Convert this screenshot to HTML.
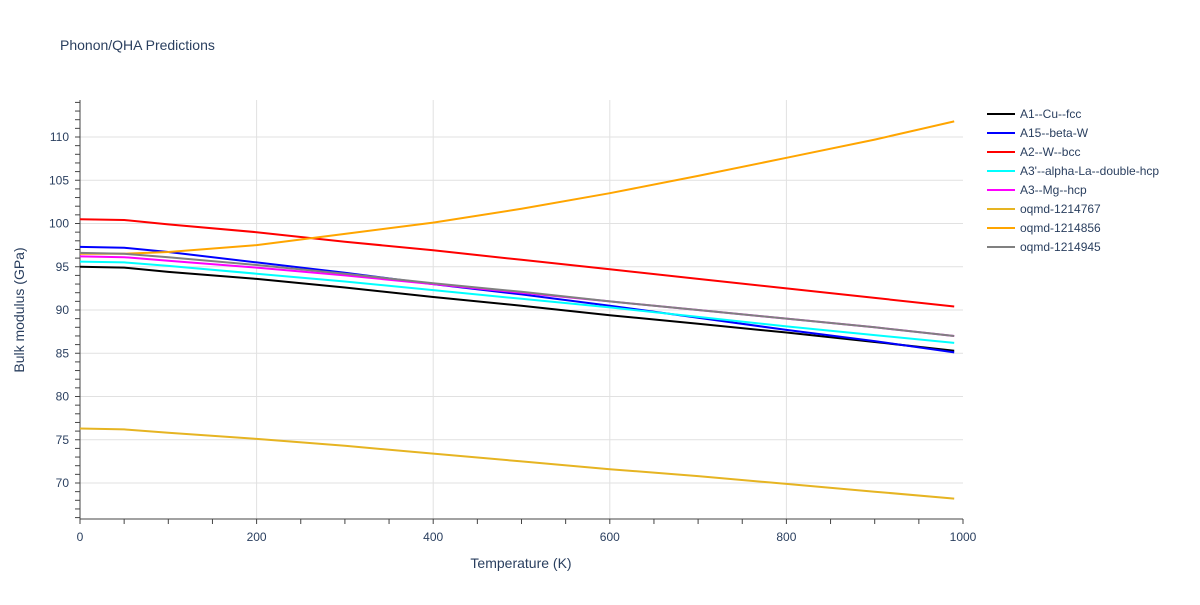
<!DOCTYPE html>
<html><head><meta charset="utf-8"><style>body{margin:0;background:#fff}svg text{font-family:"Liberation Sans",sans-serif;fill:#2a3f5f}</style></head>
<body>
<svg id="c" width="1200" height="600">
<text x="60" y="50" font-size="14">Phonon/QHA Predictions</text>
<g id="grid"></g><g id="axes"></g><g id="series"></g><g id="legend"></g>
<text x="521" y="568" font-size="14" text-anchor="middle">Temperature (K)</text>
<text transform="translate(24,310) rotate(-90)" font-size="14" text-anchor="middle">Bulk modulus (GPa)</text>
</svg>
<script>
const temps=[0,50,100,200,300,400,500,600,700,800,900,990];
const names=["A1--Cu--fcc","A15--beta-W","A2--W--bcc","A3'--alpha-La--double-hcp","A3--Mg--hcp","oqmd-1214767","oqmd-1214856","oqmd-1214945"];
const colors=["#000000","#0000ff","#ff0000","#00ffff","#ff00ff","#e6b422","#ffa500","#808080"];
const sCu=[95.0,94.9,94.4,93.6,92.6,91.5,90.5,89.4,88.4,87.4,86.3,85.3];
const sW15=[97.3,97.2,96.7,95.5,94.3,93.0,91.8,90.5,89.1,87.7,86.4,85.1];
const sW=[100.5,100.4,99.9,99.0,97.9,96.9,95.8,94.7,93.6,92.5,91.4,90.4];
const sLa=[95.6,95.5,95.1,94.2,93.3,92.3,91.3,90.3,89.2,88.1,87.1,86.2];
const sMg=[96.2,96.1,95.7,94.9,94.0,93.0,92.0,91.0,90.0,89.0,88.0,87.0];
const s767=[76.3,76.2,75.8,75.1,74.3,73.4,72.5,71.6,70.8,69.9,69.0,68.2];
const s856=[96.5,96.5,96.7,97.5,98.8,100.1,101.7,103.5,105.5,107.6,109.7,111.8];
const s945=[96.6,96.5,96.1,95.2,94.2,93.1,92.1,91.0,90.0,89.0,88.0,87.0];
const series=[sCu,sW15,sW,sLa,sMg,s767,s856,s945];
const yTicks=[70,75,80,85,90,95,100,105,110];
const xTicks=[0,200,400,600,800,1000];
const NS="http://www.w3.org/2000/svg";
const L=80,R=963,T=100,B=519;
const xs=t=>L+(t/1000)*(R-L);
const ys=v=>137+(110-v)*8.65;
function mk(p,tag,a){const e=document.createElementNS(NS,tag);for(const k in a)e.setAttribute(k,a[k]);document.getElementById(p).appendChild(e);return e;}
xTicks.forEach(t=>{if(t>0&&t<1000){const g=mk('grid','line',{x1:xs(t),x2:xs(t),y1:T,y2:B,stroke:'#e1e1e1'});}
 const tx=mk('axes','text',{x:xs(t),y:541,'font-size':12,'text-anchor':'middle'});tx.textContent=t;});
yTicks.forEach(v=>{const g=mk('grid','line',{x1:L,x2:R,y1:ys(v),y2:ys(v),stroke:'#e1e1e1'});
 const tx=mk('axes','text',{x:69,y:ys(v)+4,'font-size':12,'text-anchor':'end'});tx.textContent=v;});
for(let v=66;v<=114;v++){const e=mk('axes','line',{x1:L-(v%5==0?0:5),x2:L,y1:ys(v),y2:ys(v),stroke:'#444'});if(v%5==0){e.setAttribute('x1',L-5);}}
for(let t=0;t<=1000;t+=50){const e=mk('axes','line',{x1:xs(t),x2:xs(t),y1:B,y2:B+5,stroke:'#444'});}
const ax=mk('axes','line',{x1:L,x2:L,y1:T,y2:B,stroke:'#444'});
const bx=mk('axes','line',{x1:L,x2:R,y1:B,y2:B,stroke:'#444'});
series.forEach((s,i)=>{const d=s.map((v,j)=>(j?'L':'M')+xs(temps[j]).toFixed(1)+','+ys(v).toFixed(1)).join('');
 const p=mk('series','path',{d:d,fill:'none',stroke:colors[i],'stroke-width':2,'stroke-linejoin':'round'});
 
 const y=114+i*19;
 const ll=mk('legend','line',{x1:987,x2:1015,y1:y,y2:y,stroke:colors[i],'stroke-width':2});
 const lt=mk('legend','text',{x:1020,y:y+4,'font-size':12});lt.textContent=names[i];});
</script>
</body></html>
